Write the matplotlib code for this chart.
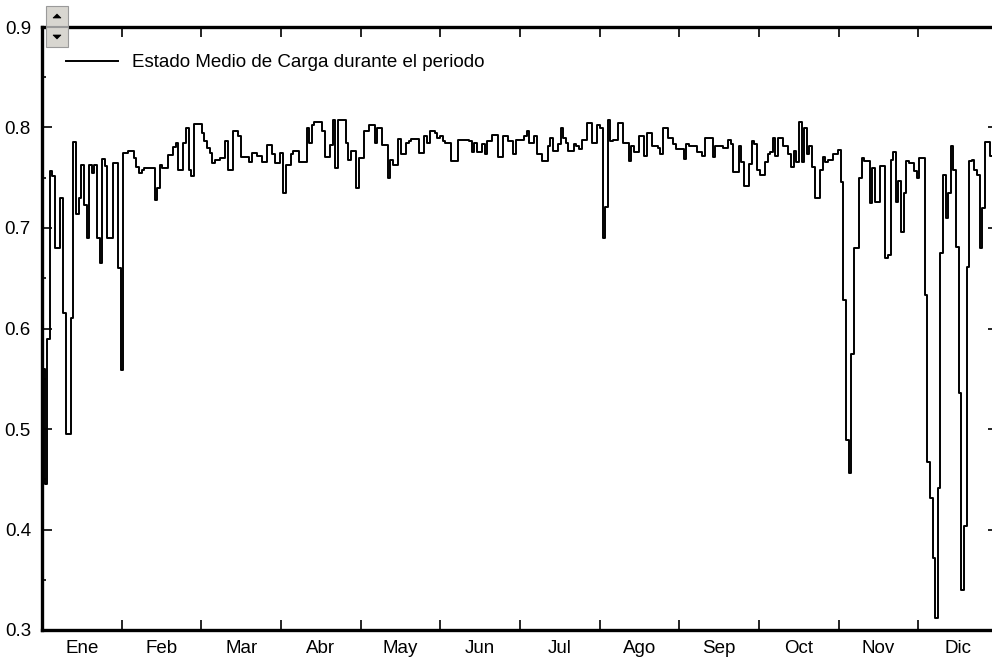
import numpy as np
import matplotlib
matplotlib.use('Agg')
import matplotlib.pyplot as plt
from matplotlib.patches import Rectangle, Polygon

# daily mean state of charge, one list per month
ene = [0.56, 0.445, 0.59, 0.757, 0.752, 0.68, 0.68, 0.73, 0.615, 0.495, 0.495,
       0.61, 0.786, 0.714, 0.73, 0.763, 0.723, 0.69, 0.763, 0.755, 0.763, 0.69,
       0.665, 0.769, 0.762, 0.69, 0.69, 0.765, 0.765, 0.66, 0.559]
feb = [0.775, 0.775, 0.777, 0.777, 0.770, 0.761, 0.755, 0.758, 0.76, 0.76, 0.76,
       0.76, 0.728, 0.74, 0.763, 0.76, 0.76, 0.773, 0.773, 0.781, 0.785, 0.758,
       0.758, 0.785, 0.8, 0.758, 0.752, 0.803]
mar = [0.803, 0.803, 0.795, 0.787, 0.78, 0.775, 0.765, 0.768, 0.768, 0.77, 0.77,
       0.787, 0.758, 0.758, 0.797, 0.797, 0.792, 0.771, 0.771, 0.771, 0.766, 0.775,
       0.775, 0.772, 0.772, 0.766, 0.766, 0.783, 0.783, 0.774, 0.765]
abr = [0.765, 0.775, 0.735, 0.763, 0.763, 0.774, 0.777, 0.777, 0.766, 0.766, 0.766,
       0.8, 0.785, 0.802, 0.805, 0.805, 0.805, 0.797, 0.771, 0.771, 0.783, 0.807,
       0.76, 0.807, 0.807, 0.807, 0.785, 0.768, 0.777, 0.777]
may = [0.74, 0.77, 0.77, 0.797, 0.797, 0.802, 0.802, 0.785, 0.8, 0.8, 0.783,
       0.783, 0.75, 0.768, 0.763, 0.763, 0.789, 0.774, 0.774, 0.785, 0.787, 0.789,
       0.789, 0.789, 0.775, 0.775, 0.792, 0.785, 0.797, 0.797, 0.795]
jun = [0.79, 0.792, 0.787, 0.785, 0.785, 0.767, 0.767, 0.767, 0.788, 0.788, 0.788,
       0.788, 0.787, 0.776, 0.785, 0.776, 0.776, 0.784, 0.774, 0.787, 0.787, 0.793,
       0.793, 0.771, 0.771, 0.792, 0.792, 0.787, 0.787, 0.774]
jul = [0.788, 0.788, 0.788, 0.792, 0.797, 0.785, 0.785, 0.792, 0.774, 0.774, 0.767,
       0.767, 0.782, 0.79, 0.777, 0.777, 0.784, 0.8, 0.79, 0.785, 0.777, 0.777,
       0.784, 0.782, 0.779, 0.788, 0.788, 0.804, 0.804, 0.785, 0.785]
ago = [0.802, 0.8, 0.69, 0.721, 0.807, 0.787, 0.788, 0.788, 0.804, 0.804, 0.785,
       0.785, 0.767, 0.782, 0.776, 0.776, 0.792, 0.792, 0.772, 0.795, 0.795, 0.782,
       0.782, 0.78, 0.774, 0.8, 0.8, 0.79, 0.79, 0.784, 0.779]
sep = [0.779, 0.779, 0.769, 0.784, 0.782, 0.782, 0.782, 0.776, 0.776, 0.772, 0.79,
       0.79, 0.79, 0.771, 0.782, 0.782, 0.782, 0.78, 0.78, 0.788, 0.784, 0.756,
       0.756, 0.782, 0.766, 0.742, 0.742, 0.764, 0.787, 0.784]
octu = [0.758, 0.753, 0.753, 0.766, 0.774, 0.776, 0.79, 0.772, 0.79, 0.79, 0.782,
        0.782, 0.774, 0.761, 0.777, 0.766, 0.805, 0.766, 0.8, 0.774, 0.782, 0.761,
        0.73, 0.73, 0.758, 0.771, 0.766, 0.768, 0.768, 0.774, 0.774]
nov = [0.778, 0.746, 0.628, 0.489, 0.456, 0.575, 0.68, 0.68, 0.75, 0.77, 0.767,
       0.767, 0.725, 0.76, 0.726, 0.726, 0.762, 0.762, 0.67, 0.673, 0.768, 0.776,
       0.726, 0.747, 0.696, 0.735, 0.767, 0.765, 0.765, 0.757]
dic = [0.75, 0.77, 0.77, 0.633, 0.467, 0.431, 0.372, 0.312, 0.441, 0.675, 0.753,
       0.71, 0.735, 0.782, 0.758, 0.681, 0.536, 0.34, 0.403, 0.661, 0.767, 0.768,
       0.758, 0.753, 0.68, 0.72, 0.786, 0.786, 0.772, 0.772, 0.775]

meses = ['Ene', 'Feb', 'Mar', 'Abr', 'May', 'Jun',
         'Jul', 'Ago', 'Sep', 'Oct', 'Nov', 'Dic']
etiqueta = 'Estado Medio de Carga durante el periodo'

soc = np.concatenate([ene, feb, mar, abr, may, jun, jul, ago, sep, octu, nov, dic])
dias = np.arange(len(soc) + 1)
soc_step = np.append(soc, soc[-1])

plt.rcParams['font.family'] = ['Liberation Sans', 'DejaVu Sans']
fs = 13.5

fig = plt.figure(figsize=(9.92, 6.61), dpi=100)
W, H = 992, 661
ax = fig.add_axes([42 / W, 31 / H, 956 / W, 603 / H])

ax.step(dias, soc_step, where='post', color='black', lw=1.4,
        label=etiqueta)

ax.set_xlim(0, 365)
ax.set_ylim(0.3, 0.9)

# month boundaries as major ticks, labels centred in between
mes = 365 / 12
ax.set_xticks([mes * i for i in range(1, 12)])
ax.set_xticklabels([])
ax.set_xticks([mes * (i + 0.5) for i in range(12)], minor=True)
ax.set_xticklabels(meses, minor=True, fontsize=fs)

ax.set_yticks(np.arange(0.3, 0.91, 0.1))
ax.set_yticklabels([f'{v:.1f}' for v in np.arange(0.3, 0.91, 0.1)], fontsize=fs)
ax.set_yticks(np.arange(0.35, 0.9, 0.1), minor=True)

ax.tick_params(axis='x', which='major', direction='in', top=True, bottom=True,
               length=7.5, width=1.2)
ax.tick_params(axis='x', which='minor', length=0, pad=7)
ax.tick_params(axis='y', which='major', direction='in', left=True, right=True,
               length=7.5, width=1.2, pad=8)
ax.tick_params(axis='y', which='minor', direction='in', left=True, right=False,
               length=3, width=1.2)

for lado in ['left', 'bottom', 'top']:
    ax.spines[lado].set_linewidth(2.4)
ax.spines['right'].set_linewidth(1.2)

ax.legend(loc='upper left', bbox_to_anchor=(0.025, 0.955), frameon=False,
          borderpad=0, borderaxespad=0, handlelength=2.8, handletextpad=0.75,
          fontsize=fs)

# small scroll buttons in the top-left corner
def boton(y0, arriba):
    x0, w, h = 46, 22, 20
    fig.patches.append(Rectangle((x0 / W, 1 - (y0 + h) / H), w / W, h / H,
                                 transform=fig.transFigure, facecolor='#d8d6d0',
                                 edgecolor='#9a9a9a', lw=0.8, zorder=5))
    cx, cy = x0 + w / 2, y0 + h / 2
    if arriba:
        pts = [(cx - 4, cy + 2), (cx + 4, cy + 2), (cx, cy - 2)]
    else:
        pts = [(cx - 4, cy - 2), (cx + 4, cy - 2), (cx, cy + 2)]
    fig.patches.append(Polygon([(px / W, 1 - py / H) for px, py in pts],
                               closed=True, transform=fig.transFigure,
                               facecolor='black', edgecolor='black', lw=0.5,
                               zorder=6))

boton(6, True)
boton(27, False)

fig.savefig('out.png', dpi=100)
